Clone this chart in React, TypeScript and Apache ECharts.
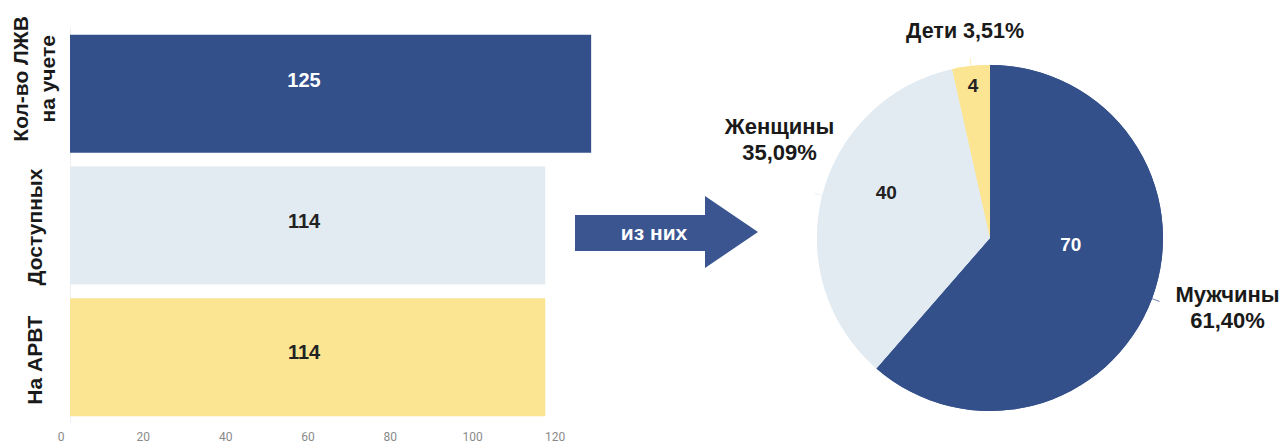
import React, { useEffect, useRef } from "react";
import * as echarts from "echarts";

const barCategories = ["Кол-во ЛЖВ\nна учете", "Доступных", "На АРВТ"];
const barValues = [125, 114, 114];
const barColors = ["#34508b", "#e2ebf2", "#fbe593"];
const barLabelColors = ["#ffffff", "#222222", "#222222"];
const tickMax = 120;
const tickStep = 20;

const pieNames = ["Мужчины", "Женщины", "Дети"];
const pieValues = [70, 40, 4];
const pieColors = ["#34508b", "#e2ebf2", "#fbe593"];
const pieInnerLabelColors = ["#ffffff", "#222222", "#222222"];
const arrowText = "из них";

export default function App() {
  const ref = useRef<HTMLDivElement>(null);
  useEffect(() => {
    document.body.style.margin = "0";
    const chart = echarts.init(ref.current!, null, { renderer: "svg" });
    const total = pieValues.reduce((a, b) => a + b, 0);
    const pct = (v: number) => ((v / total) * 100).toFixed(2).replace(".", ",") + "%";
    const outerFont = [22, 22, 21.5];
    const outerShift: [number, number][] = [[63, 6], [-30, -54], [0, -27]];
    const innerOffsets: [number, number][] = [[-3, -25], [-17, -24], [-7, -64]];
    const barLabelOffsets: [number, number][] = [[0, -14], [0, -5], [0, -5]];
    const catStyleKeys = ["c0", "c1", "c2"];
    const font = "Liberation Sans, Arial, Helvetica, sans-serif";
    const catBase = {
      fontSize: 21,
      fontWeight: "bold",
      color: "#1a1a1a",
      lineHeight: 27,
      fontFamily: font,
    };

    chart.setOption({
      animation: false,
      textStyle: { fontFamily: font },
      grid: [
        { left: 70, top: 28, width: 542, height: 395 },
        { left: 61, top: 28, width: 494, height: 395 },
      ],
      xAxis: [
        { gridIndex: 0, type: "value", min: 0, max: 130, show: false },
        {
          gridIndex: 1,
          type: "value",
          min: 0,
          max: tickMax,
          interval: tickStep,
          axisLine: { show: false },
          axisTick: { show: false },
          splitLine: { show: false },
          axisLabel: { color: "#8a8a8a", fontSize: 12, fontFamily: "Roboto", margin: 8 },
        },
      ],
      yAxis: [
        {
          gridIndex: 0,
          type: "category",
          inverse: true,
          data: barCategories,
          axisLine: { show: true, lineStyle: { color: "#efefef" } },
          axisTick: { show: false },
          axisLabel: {
            interval: 0,
            rotate: 90,
            margin: 36,
            verticalAlign: "middle",
            align: "center",
            ...catBase,
            formatter: (value: string, index: number) =>
              value
                .split("\n")
                .map((line) => `{${catStyleKeys[index]}|${line}}`)
                .join("\n"),
            rich: {
              c0: { ...catBase, padding: [0, 0, 0, 30] },
              c1: { ...catBase, padding: [0, 3, 0, 0] },
              c2: { ...catBase, padding: [0, 6, 0, 0] },
            },
          },
        },
        { gridIndex: 1, type: "category", data: [""], show: false },
      ],
      series: [
        {
          type: "bar",
          xAxisIndex: 0,
          yAxisIndex: 0,
          barCategoryGap: "10.4%",
          data: barValues.map((v, i) => ({
            value: v,
            itemStyle: { color: barColors[i] },
            label: { color: barLabelColors[i], offset: barLabelOffsets[i] },
          })),
          label: {
            show: true,
            position: [234, "50%"],
            align: "center",
            verticalAlign: "middle",
            fontSize: 20,
            fontWeight: "bold",
            fontFamily: font,
          },
        },
        {
          type: "pie",
          center: [990, 238],
          radius: 173,
          startAngle: 90,
          clockwise: true,
          avoidLabelOverlap: false,
          data: pieValues.map((v, i) => ({
            name: pieNames[i],
            value: v,
            itemStyle: { color: pieColors[i] },
            label: { fontSize: outerFont[i] },
            labelLine: { lineStyle: { color: pieColors[i], opacity: 0.7 } },
          })),
          label: {
            show: true,
            position: "outside",
            overflow: "none",
            formatter: (p: any) =>
              p.dataIndex === 2 ? `${p.name} ${pct(p.value)}` : `${p.name}\n${pct(p.value)}`,
            fontWeight: "bold",
            color: "#1a1a1a",
            lineHeight: 26,
            fontFamily: font,
          },
          labelLine: { show: true, length: 8, length2: 0 },
          labelLayout: (p: any) => ({
            align: "center",
            dx: outerShift[p.dataIndex][0],
            dy: outerShift[p.dataIndex][1],
            hideOverlap: false,
          }),
        },
        {
          type: "pie",
          center: [990, 238],
          radius: 173,
          startAngle: 90,
          clockwise: true,
          silent: true,
          data: pieValues.map((v, i) => ({
            name: pieNames[i],
            value: v,
            itemStyle: { color: pieColors[i] },
            label: { color: pieInnerLabelColors[i], offset: innerOffsets[i] },
          })),
          label: {
            show: true,
            position: "inside",
            formatter: (p: any) => String(p.value),
            fontSize: 19,
            fontWeight: "bold",
            fontFamily: font,
          },
          labelLine: { show: false },
        },
      ],
      graphic: [
        {
          type: "polygon",
          shape: {
            points: [
              [575, 215],
              [705, 215],
              [705, 196],
              [758, 232],
              [705, 268],
              [705, 251],
              [575, 251],
            ],
          },
          style: { fill: "#3a5590" },
        },
        {
          type: "text",
          x: 654,
          y: 232,
          style: {
            text: arrowText,
            fill: "#ffffff",
            font: `bold 21px ${font}`,
            textAlign: "center",
            textVerticalAlign: "middle",
          },
        },
      ],
    });
    return () => chart.dispose();
  }, []);
  return <div ref={ref} style={{ width: 1281, height: 443 }} />;
}
